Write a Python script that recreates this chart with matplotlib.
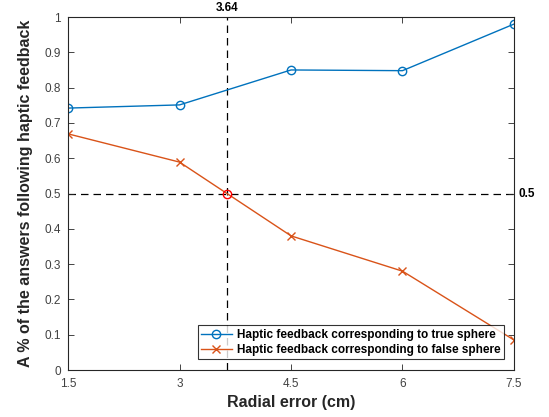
import matplotlib
matplotlib.use("Agg")
import matplotlib.pyplot as plt

x = [1.5, 3, 4.5, 6, 7.5]
true_sphere = [0.742, 0.751, 0.850, 0.848, 0.980]
false_sphere = [0.669, 0.589, 0.380, 0.280, 0.085]
cross_x = 3.64
cross_y = 0.5
xticks = [1.5, 3, 4.5, 6, 7.5]
xticklabels = ["1.5", "3", "4.5", "6", "7.5"]
yticks = [0, 0.1, 0.2, 0.3, 0.4, 0.5, 0.6, 0.7, 0.8, 0.9, 1]
yticklabels = ["0", "0.1", "0.2", "0.3", "0.4", "0.5", "0.6", "0.7", "0.8", "0.9", "1"]

plt.rcParams['font.family'] = ['Liberation Sans', 'DejaVu Sans']

fig = plt.figure(figsize=(5.49, 4.17), dpi=100)
ax = fig.add_axes([0.1239, 0.1127, 0.9362 - 0.1239, 0.9592 - 0.1127])

ax.plot(x, true_sphere, color='#0072BD', marker='o', markersize=6, mfc='none',
        lw=1.0, mew=1.0, label='Haptic feedback corresponding to true sphere')
ax.plot(x, false_sphere, color='#D95319', marker='x', markersize=6,
        lw=1.0, mew=1.0, label='Haptic feedback corresponding to false sphere')

ax.axvline(cross_x, color='black', ls=(0, (6, 4)), lw=0.9, zorder=1)
ax.axhline(cross_y, color='black', ls=(0, (6, 4)), lw=0.9, zorder=1)
ax.plot([cross_x], [cross_y], marker='o', color='red', mfc='none', markersize=6, mew=1.0)

ax.set_xlim(1.5, 7.5)
ax.set_ylim(0, 1)
ax.set_xticks(xticks)
ax.set_xticklabels(xticklabels)
ax.set_yticks(yticks)
ax.set_yticklabels(yticklabels)
ax.tick_params(direction='in', top=True, right=True, labelsize=8.5,
               labelcolor='#404040', color='#262626', length=4, width=0.6)
ax.tick_params(axis='x', pad=6)
ax.tick_params(axis='y', pad=5)
for s in ax.spines.values():
    s.set_color('#262626')
    s.set_linewidth(0.8)

ax.text(cross_x, 1.008, f"{cross_x:.2f}", ha='center', va='bottom',
        fontsize=8.5, fontweight='bold')
ax.text(7.56, cross_y, f"{cross_y:g}", ha='left', va='center',
        fontsize=8.5, fontweight='bold')

ax.set_xlabel('Radial error (cm)', fontsize=11.5, fontweight='bold', color='#262626', labelpad=3)
ax.set_ylabel('A % of the answers following haptic feedback', fontsize=11.5,
              fontweight='bold', color='#262626', labelpad=8)

leg = ax.legend(loc='lower right', bbox_to_anchor=(0.977, 0.03),
                prop={'weight': 'bold', 'size': 8.5}, frameon=True, fancybox=False,
                borderpad=0.3, handlelength=2.6, handletextpad=0.4,
                labelspacing=0.25, borderaxespad=0)
leg.get_frame().set_edgecolor('black')
leg.get_frame().set_linewidth(0.8)

fig.savefig('out.png', dpi=100)
